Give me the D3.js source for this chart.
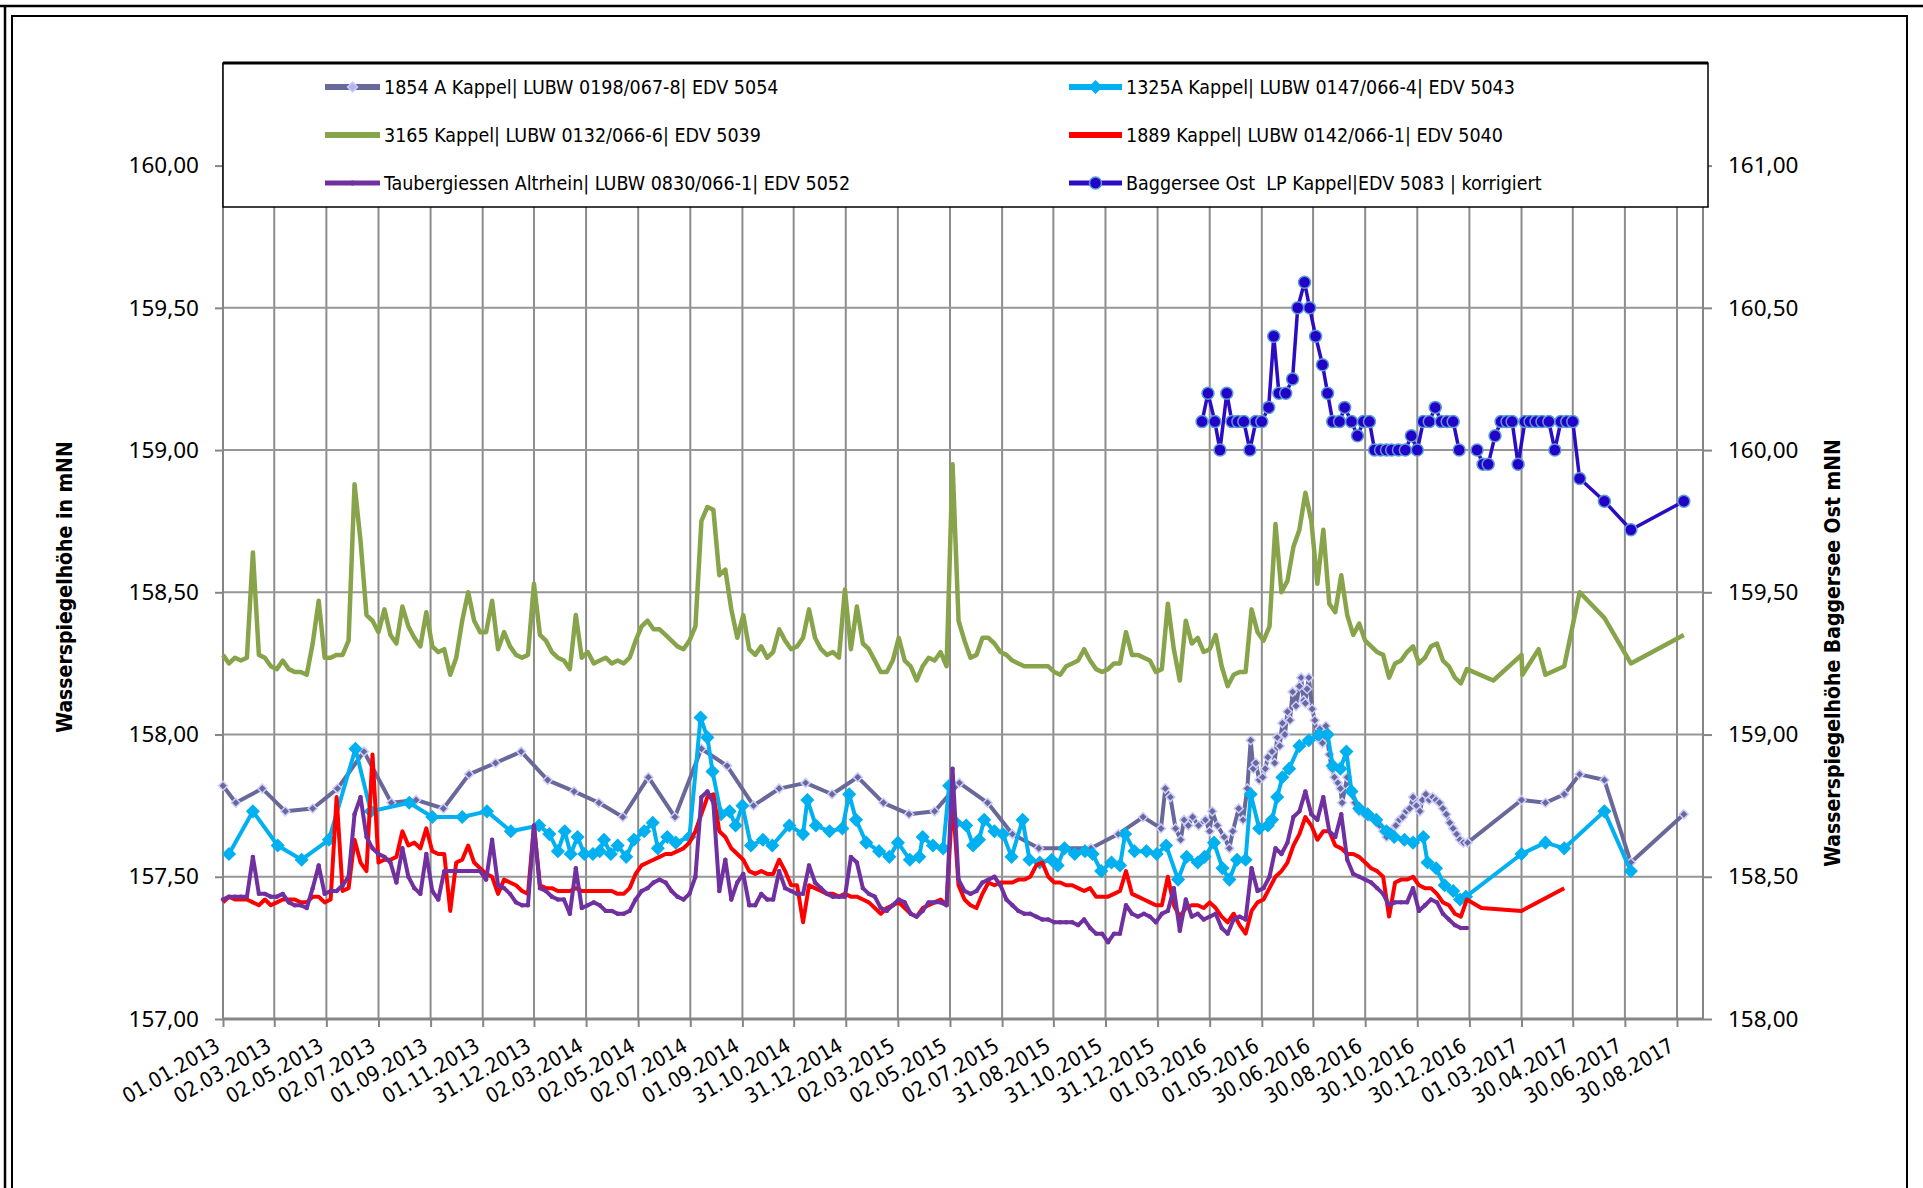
<!DOCTYPE html>
<html>
<head>
<meta charset="utf-8">
<script src="https://cdn.jsdelivr.net/npm/d3@7"></script>
<style>
  body { margin: 0; background: #fff; }
  text { fill: #000; }
</style>
</head>
<body>
<div id="chart"></div>
<script>
// ---- data ----
const xTickLabels = ["01.01.2013","02.03.2013","02.05.2013","02.07.2013","01.09.2013","01.11.2013","31.12.2013",
  "02.03.2014","02.05.2014","02.07.2014","01.09.2014","31.10.2014","31.12.2014","02.03.2015","02.05.2015",
  "02.07.2015","31.08.2015","31.10.2015","31.12.2015","01.03.2016","01.05.2016","30.06.2016","30.08.2016",
  "30.10.2016","30.12.2016","01.03.2017","30.04.2017","30.06.2017","30.08.2017"];
const yLeftTicks = [157, 157.5, 158, 158.5, 159, 159.5, 160];
const yRightTicks = [158, 158.5, 159, 159.5, 160, 160.5, 161];

const legendNames = [
  "1854 A Kappel| LUBW 0198/067-8| EDV 5054",
  "1325A Kappel| LUBW 0147/066-4| EDV 5043",
  "3165 Kappel| LUBW 0132/066-6| EDV 5039",
  "1889 Kappel| LUBW 0142/066-1| EDV 5040",
  "Taubergiessen Altrhein| LUBW 0830/066-1| EDV 5052",
  "Baggersee Ost  LP Kappel|EDV 5083 | korrigiert"
];

// weekly readings starting 01.01.2013 (one value per week up to end of 2016)
const weekStart = "2013-01-01";
const green3165 = [
  158.28,158.25,158.27,158.26,158.27,158.64,158.28,158.27,158.24,158.23,
  158.26,158.23,158.22,158.22,158.21,158.32,158.47,158.27,158.27,158.28,
  158.28,158.33,158.88,158.68,158.42,158.40,158.36,158.44,158.35,158.32,
  158.45,158.38,158.34,158.31,158.43,158.31,158.29,158.30,158.21,158.27,
  158.40,158.50,158.40,158.36,158.36,158.47,158.30,158.36,158.31,158.28,
  158.27,158.28,158.53,158.35,158.33,158.29,158.27,158.26,158.23,158.42,
  158.27,158.29,158.25,158.26,158.27,158.25,158.26,158.25,158.27,158.33,
  158.38,158.40,158.37,158.37,158.35,158.33,158.31,158.30,158.33,158.38,
  158.75,158.80,158.79,158.56,158.58,158.44,158.34,158.42,158.30,158.28,
  158.31,158.27,158.29,158.37,158.33,158.30,158.31,158.34,158.44,158.34,
  158.30,158.28,158.29,158.27,158.51,158.30,158.45,158.32,158.30,158.26,
  158.22,158.22,158.26,158.34,158.26,158.24,158.19,158.24,158.27,158.26,
  158.29,158.24,158.95,158.40,158.33,158.27,158.28,158.34,158.34,158.32,
  158.29,158.28,158.26,158.25,158.24,158.24,158.24,158.24,158.24,158.22,
  158.21,158.24,158.25,158.26,158.30,158.26,158.23,158.22,158.23,158.25,
  158.25,158.36,158.28,158.28,158.27,158.26,158.22,158.23,158.46,158.30,
  158.19,158.40,158.32,158.34,158.29,158.30,158.35,158.24,158.17,158.21,
  158.22,158.22,158.44,158.36,158.33,158.38,158.74,158.50,158.54,158.66,
  158.72,158.85,158.75,158.53,158.72,158.46,158.43,158.56,158.42,158.35,
  158.39,158.33,158.31,158.29,158.28,158.20,158.25,158.26,158.29,158.31,
  158.25,158.27,158.31,158.32,158.26,158.24,158.20,158.18,158.23
];
const red1889 = [
  157.41,157.43,157.42,157.42,157.42,157.41,157.40,157.42,157.40,157.41,
  157.42,157.42,157.42,157.41,157.41,157.43,157.43,157.41,157.42,157.78,
  157.45,157.46,157.63,157.55,157.52,157.93,157.55,157.56,157.56,157.57,
  157.66,157.61,157.62,157.60,157.67,157.59,157.58,157.58,157.38,157.55,
  157.56,157.61,157.55,157.53,157.51,157.50,157.44,157.49,157.48,157.47,
  157.45,157.44,157.68,157.47,157.46,157.46,157.45,157.45,157.45,157.46,
  157.45,157.45,157.45,157.45,157.45,157.45,157.44,157.44,157.46,157.51,
  157.54,157.55,157.56,157.57,157.58,157.58,157.59,157.60,157.62,157.66,
  157.72,157.78,157.79,157.66,157.64,157.60,157.58,157.56,157.52,157.51,
  157.52,157.51,157.51,157.56,157.52,157.47,157.47,157.34,157.47,157.46,
  157.45,157.44,157.44,157.43,157.44,157.43,157.43,157.42,157.41,157.39,
  157.37,157.39,157.40,157.41,157.39,157.37,157.36,157.39,157.40,157.41,
  157.42,157.40,157.78,157.47,157.42,157.40,157.39,157.44,157.48,157.47,
  157.48,157.48,157.48,157.49,157.49,157.50,157.54,157.55,157.50,157.48,
  157.48,157.47,157.47,157.46,157.45,157.46,157.43,157.43,157.43,157.44,
  157.45,157.52,157.44,157.43,157.42,157.41,157.40,157.40,157.50,157.40,
  157.36,157.39,157.40,157.40,157.39,157.41,157.39,157.36,157.34,157.37,
  157.33,157.30,157.38,157.41,157.42,157.46,157.50,157.52,157.55,157.61,
  157.65,157.71,157.68,157.63,157.66,157.66,157.61,157.60,157.58,157.58,
  157.57,157.55,157.53,157.52,157.50,157.36,157.48,157.49,157.49,157.50,
  157.47,157.46,157.46,157.44,157.41,157.40,157.37,157.36,157.42
];
const purpleTauber = [
  157.42,157.43,157.43,157.43,157.43,157.57,157.44,157.44,157.43,157.43,
  157.44,157.41,157.40,157.40,157.39,157.46,157.54,157.44,157.45,157.45,
  157.47,157.50,157.72,157.78,157.64,157.60,157.58,157.57,157.55,157.48,
  157.60,157.50,157.46,157.44,157.58,157.45,157.42,157.52,157.52,157.52,
  157.52,157.52,157.52,157.52,157.49,157.63,157.47,157.46,157.44,157.41,
  157.40,157.40,157.68,157.46,157.45,157.43,157.42,157.42,157.37,157.53,
  157.39,157.40,157.41,157.40,157.38,157.38,157.37,157.37,157.38,157.42,
  157.45,157.46,157.48,157.49,157.48,157.45,157.43,157.42,157.44,157.50,
  157.78,157.80,157.76,157.45,157.56,157.42,157.48,157.51,157.40,157.40,
  157.44,157.42,157.42,157.52,157.46,157.45,157.44,157.44,157.54,157.48,
  157.46,157.44,157.43,157.43,157.43,157.57,157.55,157.46,157.44,157.43,
  157.39,157.38,157.40,157.42,157.41,157.37,157.36,157.38,157.41,157.41,
  157.41,157.40,157.88,157.49,157.45,157.44,157.45,157.48,157.49,157.50,
  157.47,157.42,157.40,157.38,157.37,157.37,157.36,157.35,157.35,157.34,
  157.34,157.34,157.34,157.33,157.35,157.32,157.30,157.30,157.27,157.30,
  157.30,157.40,157.37,157.36,157.37,157.36,157.34,157.37,157.38,157.46,
  157.31,157.42,157.36,157.37,157.35,157.36,157.37,157.32,157.30,157.35,
  157.36,157.35,157.53,157.45,157.46,157.50,157.60,157.58,157.62,157.71,
  157.73,157.80,157.72,157.70,157.78,157.66,157.64,157.72,157.56,157.51,
  157.50,157.49,157.48,157.46,157.44,157.40,157.41,157.41,157.41,157.46,
  157.38,157.40,157.42,157.41,157.37,157.35,157.33,157.32,157.32
];
// sparse readings in 2017
const green3165Late = [["2017-01-27",158.19],["2017-03-01",158.28],["2017-03-02",158.21],["2017-03-21",158.30],
  ["2017-03-29",158.21],["2017-04-20",158.24],["2017-05-08",158.50],["2017-06-06",158.41],["2017-07-07",158.25],
  ["2017-09-07",158.35]];
const red1889Late = [["2017-01-13",157.39],["2017-03-01",157.38],["2017-04-20",157.46]];

const cyan1325 = [
  ["2013-01-08",157.58],["2013-02-05",157.73],["2013-03-06",157.61],["2013-04-03",157.56],["2013-05-05",157.63],
  ["2013-06-05",157.95],["2013-06-23",157.73],["2013-08-07",157.76],["2013-09-03",157.71],["2013-10-08",157.71],
  ["2013-11-06",157.73],["2013-12-04",157.66],["2014-01-06",157.68],["2014-01-18",157.65],["2014-01-28",157.59],
  ["2014-02-05",157.66],["2014-02-12",157.58],["2014-02-20",157.64],["2014-02-28",157.58],["2014-03-10",157.58],
  ["2014-03-18",157.59],["2014-03-23",157.63],["2014-03-31",157.58],["2014-04-08",157.61],["2014-04-18",157.57],
  ["2014-04-27",157.63],["2014-05-09",157.66],["2014-05-19",157.69],["2014-05-25",157.60],["2014-06-05",157.64],
  ["2014-06-15",157.62],["2014-07-01",157.64],["2014-07-14",158.06],["2014-07-22",157.99],["2014-07-28",157.87],
  ["2014-08-07",157.72],["2014-08-17",157.73],["2014-08-24",157.68],["2014-09-01",157.75],["2014-09-11",157.61],
  ["2014-09-25",157.63],["2014-10-06",157.61],["2014-10-26",157.68],["2014-11-11",157.65],["2014-11-16",157.77],
  ["2014-11-26",157.68],["2014-12-12",157.66],["2014-12-27",157.67],["2015-01-04",157.79],["2015-01-12",157.70],
  ["2015-01-24",157.62],["2015-02-08",157.59],["2015-02-20",157.57],["2015-03-02",157.62],["2015-03-16",157.56],
  ["2015-03-27",157.57],["2015-03-31",157.64],["2015-04-12",157.61],["2015-04-24",157.60],["2015-05-01",157.82],
  ["2015-05-09",157.69],["2015-05-21",157.68],["2015-05-29",157.61],["2015-06-05",157.63],["2015-06-11",157.70],
  ["2015-06-23",157.66],["2015-07-03",157.65],["2015-07-13",157.57],["2015-07-26",157.70],["2015-08-03",157.56],
  ["2015-08-15",157.55],["2015-08-29",157.56],["2015-09-05",157.54],["2015-09-13",157.60],["2015-09-25",157.58],
  ["2015-10-07",157.59],["2015-10-16",157.58],["2015-10-26",157.52],["2015-11-07",157.55],["2015-11-17",157.54],
  ["2015-11-23",157.65],["2015-12-04",157.59],["2015-12-18",157.59],["2015-12-30",157.58],["2016-01-10",157.61],
  ["2016-01-24",157.49],["2016-02-03",157.57],["2016-02-16",157.55],["2016-02-24",157.57],["2016-03-06",157.62],
  ["2016-03-16",157.53],["2016-03-24",157.49],["2016-04-02",157.56],["2016-04-12",157.56],["2016-04-18",157.79],
  ["2016-04-28",157.67],["2016-05-08",157.68],["2016-05-13",157.70],["2016-05-19",157.78],["2016-05-25",157.85],
  ["2016-06-02",157.88],["2016-06-14",157.96],["2016-06-25",157.98],["2016-07-07",158.00],["2016-07-17",158.00],
  ["2016-07-23",157.89],["2016-08-01",157.88],["2016-08-08",157.94],["2016-08-14",157.80],["2016-08-23",157.74],
  ["2016-09-02",157.72],["2016-09-12",157.70],["2016-09-24",157.66],["2016-10-03",157.64],["2016-10-15",157.63],
  ["2016-10-25",157.62],["2016-11-06",157.64],["2016-11-11",157.55],["2016-11-21",157.53],["2016-12-01",157.47],
  ["2016-12-11",157.45],["2016-12-19",157.42],["2016-12-26",157.43],["2017-03-01",157.58],["2017-03-29",157.62],
  ["2017-04-20",157.60],["2017-06-06",157.73],["2017-07-07",157.52]
];

const lav1854 = [
  ["2013-01-01",157.82],["2013-01-16",157.76],["2013-02-16",157.81],["2013-03-15",157.73],["2013-04-16",157.74],
  ["2013-05-15",157.81],["2013-06-15",157.94],["2013-07-17",157.76],["2013-08-15",157.77],["2013-09-16",157.74],
  ["2013-10-16",157.86],["2013-11-16",157.90],["2013-12-16",157.94],["2014-01-16",157.84],["2014-02-16",157.80],
  ["2014-03-17",157.76],["2014-04-14",157.71],["2014-05-14",157.85],["2014-06-14",157.71],["2014-07-15",157.95],
  ["2014-08-14",157.89],["2014-09-14",157.75],["2014-10-14",157.81],["2014-11-14",157.83],["2014-12-15",157.79],
  ["2015-01-14",157.85],["2015-02-13",157.76],["2015-03-15",157.72],["2015-04-14",157.73],["2015-05-13",157.83],
  ["2015-06-15",157.76],["2015-07-14",157.65],["2015-08-14",157.60],["2015-09-13",157.60],["2015-10-14",157.60],
  ["2015-11-15",157.65],["2015-12-14",157.71],["2016-01-04",157.67],["2016-01-09",157.81],["2016-01-15",157.78],
  ["2016-01-21",157.67],["2016-01-27",157.63],["2016-01-31",157.70],["2016-02-05",157.68],["2016-02-10",157.71],
  ["2016-02-17",157.68],["2016-02-25",157.70],["2016-03-01",157.66],["2016-03-04",157.73],["2016-03-10",157.68],
  ["2016-03-18",157.64],["2016-03-24",157.60],["2016-03-28",157.66],["2016-04-04",157.74],["2016-04-09",157.70],
  ["2016-04-14",157.81],["2016-04-18",157.98],["2016-04-21",157.88],["2016-04-24",157.90],["2016-04-28",157.84],
  ["2016-05-02",157.85],["2016-05-05",157.88],["2016-05-08",157.92],["2016-05-13",157.94],["2016-05-16",157.90],
  ["2016-05-19",157.99],["2016-05-22",157.96],["2016-05-25",158.04],["2016-05-28",158.00],["2016-05-31",158.08],
  ["2016-06-03",158.05],["2016-06-06",158.15],["2016-06-10",158.10],["2016-06-14",158.17],["2016-06-16",158.20],
  ["2016-06-19",158.12],["2016-06-21",158.11],["2016-06-23",158.16],["2016-06-25",158.20],["2016-06-29",158.09],
  ["2016-07-02",158.05],["2016-07-05",157.99],["2016-07-08",158.02],["2016-07-11",157.97],["2016-07-15",158.03],
  ["2016-07-19",157.93],["2016-07-22",157.88],["2016-07-25",157.85],["2016-07-29",157.83],["2016-08-01",157.81],
  ["2016-08-03",157.76],["2016-08-09",157.85],["2016-08-13",157.81],["2016-08-18",157.76],["2016-08-23",157.73],
  ["2016-08-29",157.72],["2016-09-04",157.71],["2016-09-10",157.70],["2016-09-16",157.68],["2016-09-20",157.66],
  ["2016-09-24",157.64],["2016-09-29",157.66],["2016-10-05",157.68],["2016-10-09",157.70],["2016-10-13",157.71],
  ["2016-10-17",157.73],["2016-10-21",157.74],["2016-10-25",157.78],["2016-10-29",157.75],["2016-11-02",157.73],
  ["2016-11-05",157.77],["2016-11-09",157.79],["2016-11-13",157.77],["2016-11-17",157.78],["2016-11-21",157.77],
  ["2016-11-25",157.76],["2016-11-29",157.74],["2016-12-03",157.72],["2016-12-07",157.69],["2016-12-11",157.67],
  ["2016-12-15",157.65],["2016-12-19",157.63],["2016-12-23",157.62],["2016-12-28",157.62],
  ["2017-03-01",157.77],["2017-03-29",157.76],["2017-04-20",157.79],["2017-05-08",157.86],["2017-06-06",157.84],
  ["2017-07-07",157.55],["2017-09-07",157.72]
];

// secondary axis (Baggersee), null = no reading
const baggersee = [
  ["2016-02-21",160.10],["2016-02-28",160.20],["2016-03-07",160.10],["2016-03-13",160.00],["2016-03-21",160.20],
  ["2016-03-27",160.10],["2016-04-03",160.10],["2016-04-10",160.10],["2016-04-17",160.00],["2016-04-24",160.10],
  ["2016-05-01",160.10],["2016-05-09",160.15],["2016-05-15",160.40],["2016-05-21",160.20],["2016-05-29",160.20],
  ["2016-06-06",160.25],["2016-06-12",160.50],["2016-06-20",160.59],["2016-06-26",160.50],["2016-07-03",160.40],
  ["2016-07-11",160.30],["2016-07-17",160.20],["2016-07-23",160.10],["2016-07-31",160.10],["2016-08-06",160.15],
  ["2016-08-14",160.10],["2016-08-21",160.05],["2016-08-28",160.10],["2016-09-04",160.10],["2016-09-10",160.00],
  ["2016-09-17",160.00],["2016-09-24",160.00],["2016-09-30",160.00],["2016-10-08",160.00],["2016-10-16",160.00],
  ["2016-10-23",160.05],["2016-10-30",160.00],["2016-11-06",160.10],["2016-11-13",160.10],["2016-11-20",160.15],
  ["2016-11-27",160.10],["2016-12-04",160.10],["2016-12-11",160.10],["2016-12-18",160.00],["2016-12-28",null],
  ["2017-01-08",160.00],["2017-01-15",159.95],["2017-01-21",159.95],["2017-01-29",160.05],["2017-02-05",160.10],
  ["2017-02-12",160.10],["2017-02-18",160.10],["2017-02-25",159.95],["2017-03-05",160.10],["2017-03-11",160.10],
  ["2017-03-18",160.10],["2017-03-25",160.10],["2017-04-02",160.10],["2017-04-09",160.00],["2017-04-16",160.10],
  ["2017-04-23",160.10],["2017-04-30",160.10],["2017-05-08",159.90],["2017-06-06",159.82],["2017-07-07",159.72],
  ["2017-09-07",159.82]
];

// ---- layout ----
const W = 1923, H = 1188;
const plotLeft = 223, plotRight = 1703, plotTop = 63, plotBottom = 1019;

const parseIso = d3.utcParse("%Y-%m-%d");
const parseDe = d3.utcParse("%d.%m.%Y");
const fmtNum = d => d.toFixed(2).replace(".", ",");

const x = d3.scaleUtc()
  .domain([parseIso("2013-01-01"), parseIso("2017-08-30")])
  .range([plotLeft, 1677]);
const yL = d3.scaleLinear().domain([157, 160]).range([plotBottom, 165.6]);
const yR = d3.scaleLinear().domain([158, 161]).range([plotBottom, 165.6]);

const t0 = parseIso(weekStart);
const weekly = vals => vals.map((v, i) => ({ date: d3.utcDay.offset(t0, 7 * i), value: v }));
const pairs = arr => arr.map(d => ({ date: parseIso(d[0]), value: d[1] }));

const svg = d3.select("#chart").append("svg")
  .attr("width", W)
  .attr("height", H)
  .style("display", "block");

svg.append("rect").attr("width", W).attr("height", H).attr("fill", "#fff");

// outer frames
svg.append("path")
  .attr("d", `M0,6 H${W} M5,6 V${H}`)
  .attr("stroke", "#000").attr("stroke-width", 2.5).attr("fill", "none");
svg.append("path")
  .attr("d", `M12,${H} V16 H1907 V${H}`)
  .attr("stroke", "#000").attr("stroke-width", 2).attr("fill", "none");

const tickDates = xTickLabels.map(parseDe);

// gridlines
svg.append("g").selectAll("line")
  .data(tickDates.slice(1))
  .join("line")
  .attr("x1", d => x(d)).attr("x2", d => x(d))
  .attr("y1", plotTop).attr("y2", plotBottom)
  .attr("stroke", "#8c8c8c").attr("stroke-width", 2);
svg.append("g").selectAll("line")
  .data(yLeftTicks.slice(1))
  .join("line")
  .attr("x1", plotLeft).attr("x2", plotRight)
  .attr("y1", d => yL(d)).attr("y2", d => yL(d))
  .attr("stroke", "#969696").attr("stroke-width", 2);

// axis lines
svg.append("line").attr("x1", plotLeft).attr("x2", plotLeft).attr("y1", plotTop).attr("y2", plotBottom)
  .attr("stroke", "#868686").attr("stroke-width", 2);
svg.append("line").attr("x1", plotRight).attr("x2", plotRight).attr("y1", plotTop).attr("y2", plotBottom)
  .attr("stroke", "#868686").attr("stroke-width", 2);
svg.append("line").attr("x1", plotLeft).attr("x2", plotRight).attr("y1", plotBottom).attr("y2", plotBottom)
  .attr("stroke", "#868686").attr("stroke-width", 3);

// y axes
const axL = svg.append("g").attr("transform", `translate(${plotLeft},0)`)
  .call(d3.axisLeft(yL).tickValues(yLeftTicks).tickFormat(fmtNum).tickSize(8).tickPadding(16));
const axR = svg.append("g").attr("transform", `translate(${plotRight},0)`)
  .call(d3.axisRight(yR).tickValues(yRightTicks).tickFormat(fmtNum).tickSize(9).tickPadding(16));
[axL, axR].forEach(ax => {
  ax.select(".domain").remove();
  ax.selectAll(".tick line").attr("stroke", "#868686").attr("stroke-width", 2);
  ax.selectAll(".tick text")
    .attr("font-family", "'Noto Sans', 'Open Sans', sans-serif")
    .attr("font-size", 22.5)
    .attr("fill", "#000");
});

// x axis
const axB = svg.append("g").attr("transform", `translate(0,${plotBottom})`)
  .call(d3.axisBottom(x).tickValues(tickDates).tickFormat(d3.utcFormat("%d.%m.%Y")).tickSize(8));
axB.select(".domain").remove();
axB.selectAll(".tick line").attr("stroke", "#868686").attr("stroke-width", 2);
axB.selectAll(".tick text")
  .attr("font-family", "'DejaVu Sans Condensed', 'DejaVu Sans', sans-serif")
  .attr("font-stretch", "condensed")
  .attr("font-size", 21)
  .attr("fill", "#000")
  .attr("text-anchor", "end")
  .attr("dy", 0)
  .attr("y", 0)
  .attr("transform", "translate(-2,31) rotate(-30)");

// axis titles
svg.append("text")
  .attr("transform", "translate(65,587) rotate(-90)")
  .attr("text-anchor", "middle").attr("dominant-baseline", "central")
  .attr("font-family", "'DejaVu Sans Condensed', 'DejaVu Sans', sans-serif")
  .attr("font-stretch", "condensed")
  .attr("font-weight", "bold").attr("font-size", 21)
  .text("Wasserspiegelhöhe in mNN");
svg.append("text")
  .attr("transform", "translate(1833,653) rotate(-90)")
  .attr("text-anchor", "middle").attr("dominant-baseline", "central")
  .attr("font-family", "'DejaVu Sans Condensed', 'DejaVu Sans', sans-serif")
  .attr("font-stretch", "condensed")
  .attr("font-weight", "bold").attr("font-size", 21)
  .text("Wasserspiegelhöhe Baggersee Ost mNN");

// ---- series ----
const diamond = r => `M0,${-r}L${r},0L0,${r}L${-r},0Z`;
const lineL = d3.line().defined(d => d.value != null).x(d => x(d.date)).y(d => yL(d.value));
const lineR = d3.line().defined(d => d.value != null).x(d => x(d.date)).y(d => yR(d.value));

const series = [
  { data: pairs(lav1854), color: "#68689a", width: 4, marker: "diamond", r: 4.5, mFill: "#68689a", mStroke: "#ccccff" },
  { data: pairs(cyan1325), color: "#00b0f0", width: 4, marker: "diamond", r: 6, mFill: "#00b0f0", mStroke: "#00b0f0" },
  { data: weekly(green3165).concat(pairs(green3165Late)), color: "#88a44b", width: 4.5 },
  { data: weekly(red1889).concat(pairs(red1889Late)), color: "#ff0000", width: 4 },
  { data: weekly(purpleTauber), color: "#7030a0", width: 4, marker: "dot", r: 2.2, mFill: "#7030a0", mStroke: "#7030a0" }
];

series.forEach(s => {
  const g = svg.append("g");
  g.append("path").datum(s.data)
    .attr("d", lineL)
    .attr("fill", "none").attr("stroke", s.color).attr("stroke-width", s.width)
    .attr("stroke-linejoin", "round");
  if (s.marker === "diamond") {
    g.selectAll("path.m").data(s.data).join("path").attr("class", "m")
      .attr("transform", d => `translate(${x(d.date)},${yL(d.value)})`)
      .attr("d", diamond(s.r))
      .attr("fill", s.mFill).attr("stroke", s.mStroke).attr("stroke-width", 1.5);
  } else if (s.marker === "dot") {
    g.selectAll("circle").data(s.data).join("circle")
      .attr("cx", d => x(d.date)).attr("cy", d => yL(d.value)).attr("r", s.r)
      .attr("fill", s.mFill);
  }
});

const bag = pairs(baggersee);
svg.append("path").datum(bag)
  .attr("d", lineR)
  .attr("fill", "none").attr("stroke", "#2b0cc4").attr("stroke-width", 3.5);
svg.append("g").selectAll("circle")
  .data(bag.filter(d => d.value != null))
  .join("circle")
  .attr("cx", d => x(d.date)).attr("cy", d => yR(d.value)).attr("r", 6)
  .attr("fill", "#2300c8").attr("stroke", "#5b9bd5").attr("stroke-width", 1.5);

// ---- legend ----
const leg = svg.append("g");
leg.append("rect")
  .attr("x", plotLeft).attr("y", plotTop)
  .attr("width", 1708 - plotLeft).attr("height", 207 - plotTop)
  .attr("fill", "#fff").attr("stroke", "#000").attr("stroke-width", 1.5);
leg.append("line").attr("x1", plotLeft).attr("x2", 1708).attr("y1", plotTop).attr("y2", plotTop)
  .attr("stroke", "#000").attr("stroke-width", 3);

const legStyle = [
  { color: "#68689a", width: 6, marker: "diamond", r: 5, mFill: "#b4b4e6", mStroke: "#ccccff" },
  { color: "#00b0f0", width: 6, marker: "diamond", r: 6, mFill: "#00b0f0", mStroke: "#00b0f0" },
  { color: "#88a44b", width: 6 },
  { color: "#ff0000", width: 6 },
  { color: "#7030a0", width: 5, marker: "dot", r: 2.5, mFill: "#7030a0" },
  { color: "#2b0cc4", width: 5, marker: "circle", r: 6, mFill: "#2300c8", mStroke: "#5b9bd5" }
];
const legRows = [87, 135, 183];
const legCols = [{ s: 325, e: 380, t: 384 }, { s: 1069, e: 1122, t: 1126 }];

legendNames.forEach((name, i) => {
  const c = legCols[i % 2], yy = legRows[Math.floor(i / 2)], st = legStyle[i];
  const g = leg.append("g");
  g.append("line").attr("x1", c.s).attr("x2", c.e).attr("y1", yy).attr("y2", yy)
    .attr("stroke", st.color).attr("stroke-width", st.width);
  const mx = (c.s + c.e) / 2;
  if (st.marker === "diamond") {
    g.append("path").attr("transform", `translate(${mx},${yy})`).attr("d", diamond(st.r))
      .attr("fill", st.mFill).attr("stroke", st.mStroke).attr("stroke-width", 1.5);
  } else if (st.marker === "dot") {
    g.append("circle").attr("cx", mx).attr("cy", yy).attr("r", st.r).attr("fill", st.mFill);
  } else if (st.marker === "circle") {
    g.append("circle").attr("cx", mx).attr("cy", yy).attr("r", st.r)
      .attr("fill", st.mFill).attr("stroke", st.mStroke).attr("stroke-width", 1.5);
  }
  g.append("text")
    .attr("x", c.t).attr("y", yy)
    .attr("dominant-baseline", "central")
    .attr("font-family", "'DejaVu Sans Condensed', 'DejaVu Sans', sans-serif")
    .attr("font-stretch", "condensed")
    .attr("font-size", 19.5)
    .attr("xml:space", "preserve")
    .style("white-space", "pre")
    .text(name);
});
</script>
</body>
</html>
